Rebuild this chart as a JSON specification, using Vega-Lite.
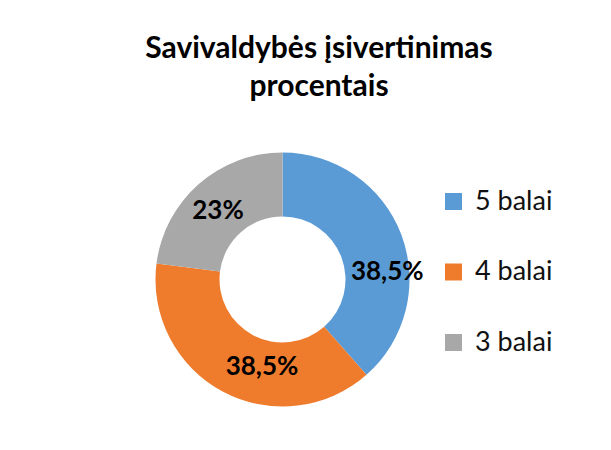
{
  "$schema": "https://vega.github.io/schema/vega-lite/v6.json",
  "autosize": "none",
  "padding": {"left": 10, "top": 150, "right": 0, "bottom": 0},
  "width": 545,
  "height": 259,
  "background": "white",
  "config": {"view": {"stroke": null}, "font": "Lato"},
  "title": {
    "text": ["Savivaldybės įsivertinimas", "procentais"],
    "font": "Lato",
    "fontSize": 30,
    "fontWeight": "bold",
    "color": "#000000",
    "anchor": "middle",
    "dx": 36.5,
    "offset": 48,
    "lineHeight": 37.6
  },
  "data": {
    "values": [
      {"kategorija": "5 balai", "procentai": 38.5, "zyma": "38,5%"},
      {"kategorija": "4 balai", "procentai": 38.5, "zyma": "38,5%"},
      {"kategorija": "3 balai", "procentai": 23, "zyma": "23%"}
    ]
  },
  "transform": [
    {"stack": "procentai", "groupby": [], "sort": [{"field": "kategorija", "order": "descending"}], "as": ["t0", "t1"]}
  ],
  "encoding": {
    "theta": {"field": "t0", "type": "quantitative", "scale": {"domain": [0, 100]}},
    "theta2": {"field": "t1"}
  },
  "layer": [
    {
      "mark": {"type": "arc", "outerRadius": 127, "innerRadius": 63},
      "encoding": {
        "color": {
          "field": "kategorija",
          "type": "nominal",
          "scale": {"domain": ["5 balai", "4 balai", "3 balai"], "range": ["#5B9BD5", "#EF7C2D", "#A8A8A8"]},
          "legend": {
            "title": null,
            "orient": "none",
            "legendX": 430,
            "legendY": 38,
            "padding": 0,
            "symbolType": "square",
            "symbolSize": 289,
            "symbolStrokeWidth": 0,
            "labelFont": "Lato",
            "labelFontSize": 27,
            "labelColor": "#111111",
            "labelOffset": 8,
            "rowPadding": 42.5
          }
        }
      }
    },
    {
      "transform": [{"filter": "datum.kategorija === '5 balai'"}],
      "mark": {"type": "text", "radius": 105, "thetaOffset": 1.499, "font": "Lato", "fontSize": 26, "fontWeight": "bold", "color": "#000000"},
      "encoding": {"text": {"field": "zyma"}}
    },
    {
      "transform": [{"filter": "datum.kategorija === '4 balai'"}],
      "mark": {"type": "text", "radius": 90, "thetaOffset": 0.953, "font": "Lato", "fontSize": 26, "fontWeight": "bold", "color": "#000000"},
      "encoding": {"text": {"field": "zyma"}}
    },
    {
      "transform": [{"filter": "datum.kategorija === '3 balai'"}],
      "mark": {"type": "text", "radius": 94, "thetaOffset": 0.689, "font": "Lato", "fontSize": 26, "fontWeight": "bold", "color": "#000000"},
      "encoding": {"text": {"field": "zyma"}}
    }
  ]
}
